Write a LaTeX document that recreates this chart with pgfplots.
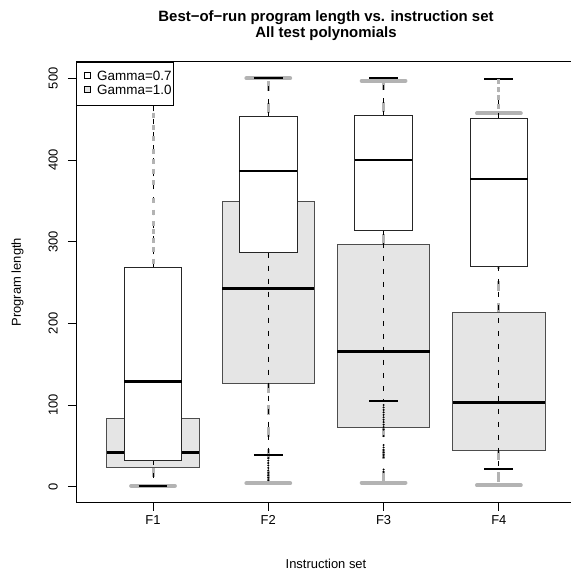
\documentclass[border=0pt]{standalone}
\usepackage{fontspec}
\setmainfont{Liberation Sans}
\usepackage{pgfplots}
\pgfplotsset{compat=1.18}

\definecolor{boxfill}{HTML}{E5E5E5}
\definecolor{capgrey}{HTML}{B3B3B3}
\definecolor{edgegrey}{HTML}{4D4D4D}

\pgfplotsset{
  % Gamma=1.0: wide grey boxes, thick grey whiskers
  g10line/.style={forget plot, no markers, capgrey, line width=3bp, dash pattern=on 10bp off 12bp},
  g10cap/.style={forget plot, no markers, capgrey, line width=4bp, line cap=round},
  g10box/.style={forget plot, no markers, draw=edgegrey, fill=boxfill, line width=0.9bp},
  g10med/.style={forget plot, no markers, black, line width=2.7bp},
  g10out/.style={forget plot, only marks, mark=|, mark size=2.5bp, mark options={capgrey, line width=3bp, solid}},
  % Gamma=0.7: narrow white boxes, thin black whiskers
  g07line/.style={forget plot, no markers, black, line width=0.9bp, dash pattern=on 5bp off 8bp},
  g07cap/.style={forget plot, no markers, black, line width=2bp},
  g07box/.style={forget plot, no markers, draw=black!85, fill=white, line width=0.9bp},
  g07med/.style={forget plot, no markers, black, line width=2.7bp},
  g07out/.style={forget plot, only marks, mark=*, mark size=0.8bp, mark options={black, solid}},
}

% #1 position, #2 box half width, #3 staple half width,
% #4 lower whisker, #5 lower quartile, #6 median, #7 upper quartile, #8 upper whisker, #9 style
\newcommand\rboxplot[9]{%
  \pgfmathsetmacro\xa{#1-#2}\pgfmathsetmacro\xb{#1+#2}%
  \pgfmathsetmacro\ca{#1-#3}\pgfmathsetmacro\cb{#1+#3}%
  \addplot[#9line] coordinates {(#1,#5) (#1,#4)};
  \addplot[#9line] coordinates {(#1,#7) (#1,#8)};
  \addplot[#9cap] coordinates {(\ca,#4) (\cb,#4)};
  \addplot[#9cap] coordinates {(\ca,#8) (\cb,#8)};
  \addplot[#9box] coordinates {(\xa,#5) (\xb,#5) (\xb,#7) (\xa,#7)} -- cycle;
  \addplot[#9med] coordinates {(\xa,#6) (\xb,#6)};
}

\begin{document}
\begin{tikzpicture}
\begin{axis}[
  at={(0bp,0bp)}, anchor=south west,
  scale only axis, width=500bp, height=441bp,
  xmin=0.332, xmax=4.669, ymin=-19.6, ymax=520.3,
  xtick={1,2,3,4}, xticklabels={F1,F2,F3,F4},
  ytick={0,100,200,300,400,500},
  tick align=outside, tick pos=left,
  major tick length=8bp,
  tick style={black, line width=0.9bp},
  axis line style={line width=0.9bp},
  /pgf/number format/assume math mode=true,
  ticklabel style={font=\fontsize{13}{13}\selectfont},
  yticklabel style={rotate=90, anchor=south, inner sep=0pt, yshift=10bp},
  xticklabel style={anchor=base, inner sep=0pt, yshift=-13.8bp},
  legend style={at={(0,1)}, anchor=north west, draw=black, line width=0.9bp, fill=white,
    font=\fontsize{13.5}{13.5}\selectfont, inner xsep=2bp, inner ysep=7.5bp,
    nodes={inner xsep=0bp, inner ysep=1.6bp}, column sep=6.7bp, row sep=0bp},
  legend cell align=left,
]
% Gamma = 1.0 (grey, wide)
\rboxplot{1}{0.4}{0.19}{1}{23.7}{42.1}{83.3}{170}{g10}
\rboxplot{2}{0.4}{0.19}{4.1}{126.6}{242.9}{349.5}{500}{g10}
\rboxplot{3}{0.4}{0.19}{4.9}{72.7}{165.3}{296.8}{497}{g10}
\rboxplot{4}{0.4}{0.19}{1.7}{44.9}{103.3}{213}{457}{g10}
\addplot[g10out] coordinates {(1,276) (1,290) (1,302) (1,312) (1,322) (1,336) (1,350) (1,372) (1,386)
  (1,398) (1,410) (1,426) (1,440) (1,455) (1,470) (1,485) (1,498)};
\addplot[g10out] coordinates {(4,466) (4,476) (4,486) (4,496)};
% Gamma = 0.7 (white, narrow)
\rboxplot{1}{0.25}{0.125}{1}{32.7}{128.6}{268.6}{500}{g07}
\rboxplot{2}{0.25}{0.125}{38.8}{286.5}{386.5}{453}{500}{g07}
\rboxplot{3}{0.25}{0.125}{105.3}{314.3}{400}{454.2}{500}{g07}
\rboxplot{4}{0.25}{0.125}{21.3}{270.2}{376.7}{451}{499}{g07}
\addplot[g07out] coordinates {(2,35) (2,32) (2,29) (2,26) (2,23) (2,20) (2,17) (2,14) (2,11) (2,8)};
\addplot[g07out] coordinates {(3,100) (3,97) (3,94) (3,91) (3,88) (3,85) (3,82) (3,79) (3,76) (3,73)
  (3,70) (3,62) (3,51) (3,48) (3,45) (3,42) (3,39) (3,36) (3,21) (3,18)};

\addlegendimage{legend image code/.code={\path (0bp,0bp); \draw[black, line width=0.7bp, fill=white] (5.3bp,-2bp) rectangle (11.3bp,4bp);}}
\addlegendentry{Gamma=0.7}
\addlegendimage{legend image code/.code={\path (0bp,0bp); \draw[black, line width=0.7bp, fill=boxfill] (5.3bp,-2bp) rectangle (11.3bp,4bp);}}
\addlegendentry{Gamma=1.0}
\end{axis}
% titles and axis labels
\node[anchor=base, font=\bfseries\fontsize{15}{15}\selectfont] at (250bp,481.1bp) {Best−of−run program length vs. instruction set};
\node[anchor=base, font=\bfseries\fontsize{15}{15}\selectfont] at (250bp,464.7bp) {All test polynomials};
\node[anchor=base, font=\fontsize{13}{13}\selectfont] at (250bp,-65.3bp) {Instruction set};
\node[anchor=base, rotate=90, font=\fontsize{13}{13}\selectfont] at (-55bp,220.5bp) {Program length};
\pgfresetboundingbox
\path (-76bp,-71.3bp) rectangle (495bp,502.7bp);
\end{tikzpicture}
\end{document}
